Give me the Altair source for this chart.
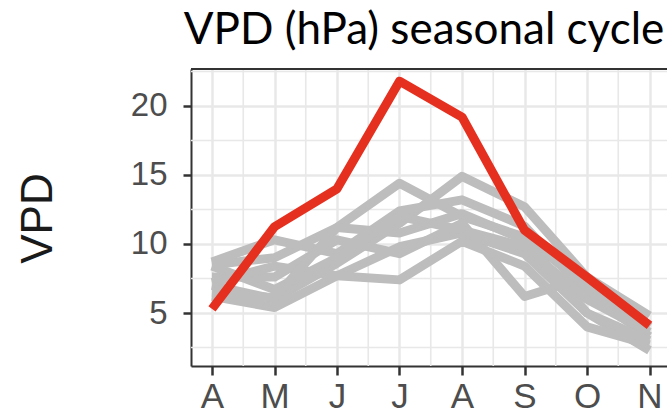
import altair as alt
import pandas as pd

months = ["A", "M", "J", "J", "A", "S", "O", "N"]
month_idx = list(range(len(months)))

highlight = [5.3, 11.25, 14.0, 21.8, 19.2, 11.0, 7.6, 4.1]

gray_1 = [8.5, 9.0, 11.2, 14.4, 12.0, 10.5, 7.0, 4.0]
gray_2 = [7.0, 6.0, 8.6, 11.5, 14.9, 12.7, 7.6, 4.8]
gray_3 = [8.7, 10.3, 9.3, 12.4, 13.2, 11.3, 6.4, 3.3]
gray_4 = [7.6, 7.6, 10.3, 9.3, 11.5, 6.2, 7.6, 4.0]
gray_5 = [6.2, 5.4, 7.7, 9.8, 10.8, 9.3, 5.0, 2.3]
gray_6 = [8.4, 6.7, 9.0, 12.0, 11.0, 9.8, 6.0, 3.6]
gray_7 = [7.2, 8.4, 7.7, 7.4, 10.2, 8.4, 4.0, 2.7]
gray_8 = [6.5, 6.1, 11.2, 10.8, 12.2, 10.3, 5.0, 3.0]
gray_series = [gray_1, gray_2, gray_3, gray_4, gray_5, gray_6, gray_7, gray_8]

y_major = [5, 10, 15, 20]
y_minor = [2.5, 7.5, 12.5, 17.5, 22.5]
x_minor = [0.5, 1.5, 2.5, 3.5, 4.5, 5.5, 6.5]

rows = []
for k, s in enumerate(gray_series):
    for i, v in zip(month_idx, s):
        rows.append({"m": i, "vpd": v, "series": f"g{k}"})
gray_df = pd.DataFrame(rows)
red_df = pd.DataFrame({"m": month_idx, "vpd": highlight})

W, H = 476, 297
xdom = [-0.336, 7.28]
ydom = [1.16, 22.68]

arr = "[" + ",".join(f"'{m}'" for m in months) + "]"
GRID = "#e8e8e8"

xs = alt.Scale(domain=xdom, nice=False, zero=False)
ys = alt.Scale(domain=ydom, nice=False, zero=False)

x_axis = alt.Axis(
    values=month_idx,
    labelExpr=f"{arr}[datum.value]",
    title=None,
    labelFont="Liberation Sans", labelFontSize=35, labelColor="#4d4d4d",
    labelPadding=4, labelOverlap=False, labelFlush=False, labelBound=False,
    tickSize=9, tickWidth=2.5, tickColor="#333333",
    domainColor="#333333", domainWidth=2,
    grid=True, gridColor=GRID, gridWidth=2.5,
)
y_axis = alt.Axis(
    values=y_major,
    title="VPD", titleFont="Liberation Sans", titleFontSize=44, titleFontWeight="normal",
    titleColor="#1a1a1a", titleAngle=270, titleAlign="center", titleBaseline="middle",
    titleX=-153, titleY=149,
    labelFont="Liberation Sans", labelFontSize=33, labelColor="#4d4d4d",
    labelPadding=16, labelOverlap=False, labelFlush=False, labelBound=False,
    tickSize=8, tickWidth=2.5, tickColor="#333333",
    domainColor="#333333", domainWidth=2,
    grid=True, gridColor=GRID, gridWidth=2.5,
)

hminor = alt.Chart(pd.DataFrame({"v": y_minor})).mark_rule(
    color=GRID, strokeWidth=1.6, clip=True
).encode(y=alt.Y("v:Q", scale=ys))
vminor = alt.Chart(pd.DataFrame({"v": x_minor})).mark_rule(
    color=GRID, strokeWidth=1.6, clip=True
).encode(x=alt.X("v:Q", scale=xs))

gray = alt.Chart(gray_df).mark_line(
    color="#bdbdbd", strokeWidth=9, strokeJoin="round", clip=True
).encode(
    x=alt.X("m:Q", scale=xs, axis=x_axis),
    y=alt.Y("vpd:Q", scale=ys, axis=y_axis),
    detail="series:N",
)

red = alt.Chart(red_df).mark_line(
    color="#e5301f", strokeWidth=9, strokeJoin="round", clip=True
).encode(
    x=alt.X("m:Q", scale=xs),
    y=alt.Y("vpd:Q", scale=ys),
)

top_border = alt.Chart(red_df).mark_rule(color="#333333", strokeWidth=2).encode(
    x=alt.value(0), x2=alt.value(W), y=alt.value(0)
)

chart = alt.layer(hminor, vminor, gray, red, top_border).properties(
    width=W, height=H,
    title=alt.TitleParams(
        "VPD (hPa) seasonal cycle", font="Lato", fontSize=44, fontWeight="normal",
        color="#000000", anchor="middle", offset=15, dx=-5,
    ),
    autosize=alt.AutoSizeParams(type="none"),
    padding={"left": 191, "top": 69, "right": 0, "bottom": 52},
).configure_view(stroke=None).configure(background="white")

chart.save("out.html", embed_options={"renderer": "svg", "actions": False})
